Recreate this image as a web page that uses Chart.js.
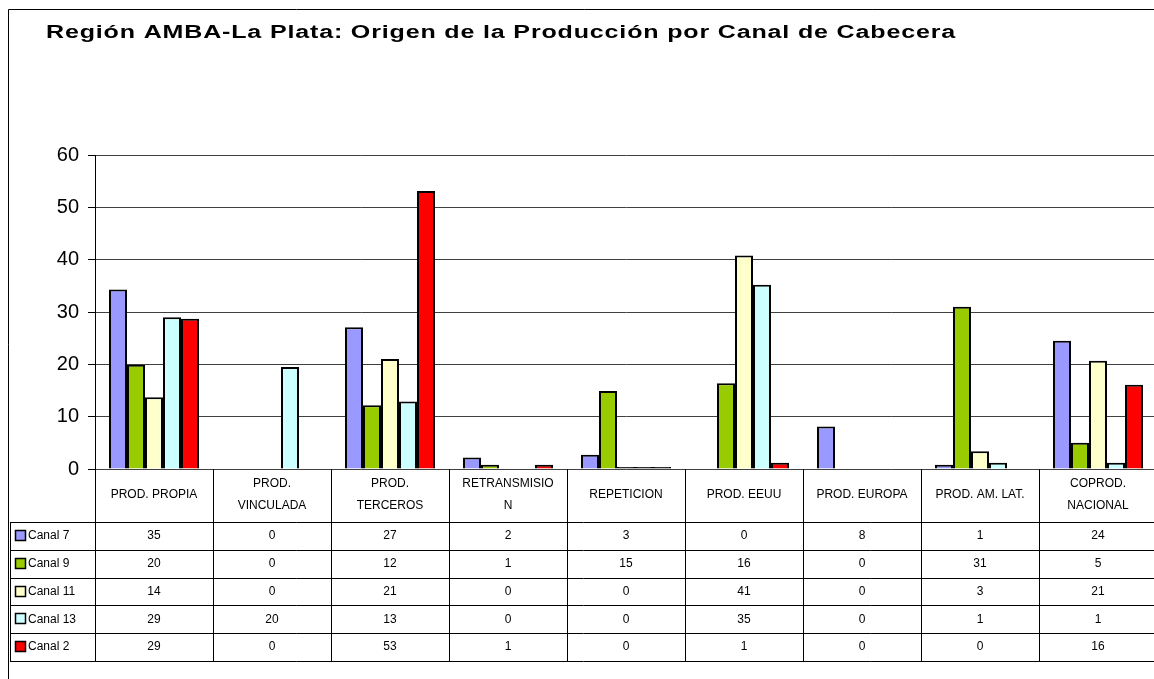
<!DOCTYPE html>
<html>
<head>
<meta charset="utf-8">
<script src="https://cdn.jsdelivr.net/npm/chart.js@4"></script>
<style>
  html, body { margin: 0; padding: 0; overflow: hidden; background: #fff; }
  #wrap { width: 1160px; height: 679px; position: relative; }
</style>
</head>
<body>
<div id="wrap"><canvas id="myChart"></canvas></div>
<script>
const titulo = "Región AMBA-La Plata: Origen de la Producción por Canal de Cabecera";

const categorias = [
  ["PROD. PROPIA"], ["PROD.", "VINCULADA"], ["PROD.", "TERCEROS"], ["RETRANSMISIO", "N"],
  ["REPETICION"], ["PROD. EEUU"], ["PROD. EUROPA"], ["PROD. AM. LAT."], ["COPROD.", "NACIONAL"]
];

const canales = ["Canal 7", "Canal 9", "Canal 11", "Canal 13", "Canal 2"];
const colores = ["#9999FF", "#99CC00", "#FFFFCC", "#CCFFFF", "#FF0000"];

// bar heights
const canal7 = [34.3, 0, 27.1, 2.2, 2.7, 0, 8.1, 0.8, 24.5];
const canal9 = [19.9, 0, 12.2, 0.8, 14.9, 16.4, 0, 31.0, 5.0];
const canal11 = [13.7, 0, 21.0, 0, 0.4, 40.8, 0, 3.4, 20.7];
const canal13 = [29.0, 19.5, 12.9, 0, 0.4, 35.2, 0, 1.2, 1.2];
const canal2 = [28.7, 0, 53.1, 0.8, 0.4, 1.2, 0, 0, 16.1];

// values printed in the data table
const tabla7 = [35, 0, 27, 2, 3, 0, 8, 1, 24];
const tabla9 = [20, 0, 12, 1, 15, 16, 0, 31, 5];
const tabla11 = [14, 0, 21, 0, 0, 41, 0, 3, 21];
const tabla13 = [29, 20, 13, 0, 0, 35, 0, 1, 1];
const tabla2 = [29, 0, 53, 1, 0, 1, 0, 0, 16];

const series = [canal7, canal9, canal11, canal13, canal2];
const tabla = [tabla7, tabla9, tabla11, tabla13, tabla2];

const FONT = "Liberation Sans, Arial, sans-serif";

const fondo = {
  id: "fondo",
  beforeDraw(chart) {
    const c = chart.ctx;
    c.save();
    c.fillStyle = "#fff";
    c.fillRect(0, 0, chart.width, chart.height);
    c.strokeStyle = "#000";
    c.lineWidth = 1;
    c.beginPath();
    c.moveTo(8.5, chart.height);
    c.lineTo(8.5, 9.5);
    c.lineTo(chart.width, 9.5);
    c.stroke();
    // title: the original is set wide, so stretch it to its width
    c.fillStyle = "#000";
    c.font = "bold 18px " + FONT;
    c.letterSpacing = "0.6px";
    c.textBaseline = "alphabetic";
    const w = c.measureText(titulo).width;
    c.translate(46, 38);
    c.scale(910 / w, 1);
    c.fillText(titulo, 0, 0);
    c.restore();
  }
};

const tablaDatos = {
  id: "tablaDatos",
  afterDraw(chart) {
    const c = chart.ctx;
    const x = chart.scales.x;
    const n = categorias.length;
    const w = (x.right - x.left) / n;
    const top = chart.chartArea.bottom;
    const headBottom = top + 53;
    const rowH = 27.8;
    const bottom = headBottom + rowH * canales.length;
    c.save();
    c.strokeStyle = "#000";
    c.lineWidth = 1;
    c.beginPath();
    for (let i = 0; i <= n; i++) {
      const px = Math.round(x.left + i * w) + 0.5;
      c.moveTo(px, top);
      c.lineTo(px, bottom);
    }
    c.moveTo(10.5, headBottom);
    c.lineTo(10.5, bottom);
    for (let r = 0; r <= canales.length; r++) {
      const py = Math.round(headBottom + r * rowH) + 0.5;
      c.moveTo(10, py);
      c.lineTo(x.right, py);
    }
    c.stroke();

    c.fillStyle = "#000";
    c.font = "12px " + FONT;
    c.textAlign = "center";
    c.textBaseline = "middle";
    const mid = (top + headBottom) / 2 - 0.5;
    categorias.forEach((lines, i) => {
      const cx = x.left + (i + 0.5) * w;
      lines.forEach((ln, k) => {
        c.fillText(ln, cx, mid + (k - (lines.length - 1) / 2) * 22);
      });
    });

    canales.forEach((name, r) => {
      const cy = headBottom + (r + 0.5) * rowH;
      tabla[r].forEach((v, i) => {
        c.textAlign = "center";
        c.fillText(String(v), x.left + (i + 0.5) * w, cy);
      });
      c.fillStyle = colores[r];
      c.fillRect(15.5, Math.round(cy) - 5.5, 10, 10);
      c.lineWidth = 1.5;
      c.strokeRect(15.5, Math.round(cy) - 5.5, 10, 10);
      c.fillStyle = "#000";
      c.textAlign = "left";
      c.fillText(name, 28, cy);
    });
    c.restore();
  }
};

const ctx = document.getElementById("myChart");

new Chart(ctx, {
  type: "bar",
  data: {
    labels: categorias,
    datasets: canales.map((name, i) => ({
      label: name,
      data: series[i],
      // very short bars are all outline in the original
      backgroundColor: (c) => (c.raw > 0 && c.raw < 0.5 ? "#000" : colores[i]),
      borderColor: "#000",
      borderWidth: 2,
      borderSkipped: "bottom",
      categoryPercentage: 0.763,
      barPercentage: 1
    }))
  },
  options: {
    responsive: true,
    maintainAspectRatio: false,
    devicePixelRatio: 1,
    animation: false,
    layout: { padding: { left: 0, top: 155, right: 3, bottom: 210 } },
    plugins: {
      legend: { display: false },
      title: { display: false },
      tooltip: { enabled: false }
    },
    scales: {
      x: {
        display: false
      },
      y: {
        min: 0,
        max: 60,
        afterFit(scale) { scale.width = 95; },
        ticks: {
          stepSize: 10,
          color: "#000",
          padding: 9,
          font: { family: FONT, size: 20 }
        },
        grid: {
          color: "#404040",
          lineWidth: 1,
          tickLength: 7,
          tickColor: "#000"
        },
        border: { display: true, color: "#000", width: 1 }
      }
    }
  },
  plugins: [fondo, tablaDatos]
});
</script>
</body>
</html>
